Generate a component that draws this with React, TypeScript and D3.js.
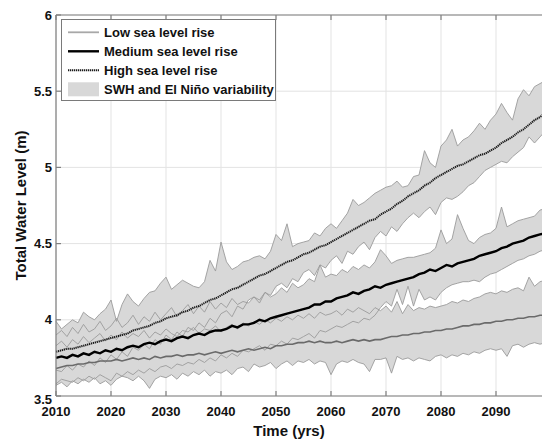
import React from 'react';
import * as d3 from 'd3';

const years = d3.range(2010, 2100);

// centre lines
const lowRise = [3.68, 3.69, 3.70, 3.70, 3.71, 3.71, 3.72, 3.72, 3.73, 3.73, 3.73, 3.74, 3.73, 3.74, 3.75, 3.74, 3.75, 3.74, 3.76, 3.75,
  3.76, 3.76, 3.77, 3.76, 3.77, 3.77, 3.78, 3.77, 3.78, 3.79, 3.78, 3.79, 3.80, 3.79, 3.80, 3.81, 3.80, 3.81, 3.82, 3.81,
  3.83, 3.83, 3.84, 3.84, 3.85, 3.85, 3.86, 3.85, 3.86, 3.85, 3.85, 3.86, 3.85, 3.86, 3.87, 3.86, 3.87, 3.86, 3.87, 3.87,
  3.88, 3.89, 3.89, 3.90, 3.90, 3.91, 3.91, 3.92, 3.92, 3.93, 3.93, 3.94, 3.94, 3.95, 3.96, 3.96, 3.97, 3.97, 3.98, 3.98,
  3.99, 3.99, 4.00, 4.00, 4.01, 4.01, 4.02, 4.02, 4.03, 4.03];
const mediumRise = [3.75, 3.76, 3.75, 3.77, 3.76, 3.78, 3.77, 3.79, 3.78, 3.80, 3.79, 3.81, 3.80, 3.82, 3.83, 3.82, 3.84, 3.85, 3.84, 3.86,
  3.87, 3.86, 3.88, 3.89, 3.88, 3.90, 3.91, 3.90, 3.92, 3.93, 3.93, 3.94, 3.96, 3.95, 3.97, 3.97, 3.98, 4.00, 3.99, 4.01,
  4.02, 4.03, 4.04, 4.05, 4.06, 4.07, 4.08, 4.10, 4.10, 4.12, 4.12, 4.14, 4.15, 4.16, 4.18, 4.17, 4.19, 4.20, 4.22, 4.21,
  4.23, 4.24, 4.25, 4.26, 4.27, 4.28, 4.30, 4.31, 4.33, 4.32, 4.34, 4.36, 4.35, 4.37, 4.38, 4.39, 4.40, 4.42, 4.43, 4.44,
  4.45, 4.47, 4.48, 4.50, 4.51, 4.52, 4.54, 4.55, 4.56, 4.57];
const highRise = [3.79, 3.80, 3.81, 3.81, 3.82, 3.83, 3.84, 3.85, 3.86, 3.87, 3.88, 3.89, 3.90, 3.91, 3.93, 3.94, 3.95, 3.96, 3.98, 3.99,
  4.01, 4.02, 4.03, 4.05, 4.06, 4.08, 4.09, 4.11, 4.13, 4.14, 4.16, 4.18, 4.20, 4.21, 4.23, 4.25, 4.27, 4.29, 4.30, 4.32,
  4.34, 4.36, 4.38, 4.39, 4.41, 4.43, 4.44, 4.46, 4.48, 4.49, 4.51, 4.53, 4.55, 4.57, 4.59, 4.61, 4.63, 4.65, 4.66, 4.69,
  4.71, 4.73, 4.76, 4.78, 4.81, 4.83, 4.85, 4.88, 4.90, 4.93, 4.95, 4.97, 4.99, 5.01, 5.02, 5.04, 5.06, 5.08, 5.09, 5.11,
  5.13, 5.16, 5.18, 5.20, 5.23, 5.25, 5.28, 5.31, 5.33, 5.36];

// variability band edges (SWH + El Nino)
const lowUpper = [3.83, 3.86, 3.82, 3.87, 3.84, 3.89, 3.85, 3.88, 3.91, 3.86, 3.90, 3.87, 3.92, 3.88, 3.91, 3.89, 3.93, 3.88, 3.92, 3.90,
  3.94, 3.91, 3.89, 3.93, 3.92, 3.95, 3.91, 3.94, 3.93, 3.96, 3.92, 3.95, 3.97, 3.94, 3.98, 3.96, 3.99, 3.97, 4.00, 3.98,
  4.01, 3.99, 4.02, 4.00, 4.03, 4.01, 4.04, 4.01, 4.05, 4.03, 4.04, 4.06, 4.03, 4.07, 4.05, 4.08, 4.06, 4.04, 4.08, 4.06,
  4.09, 4.05, 4.12, 4.04, 4.10, 4.06, 4.08, 4.07, 4.09, 4.08, 4.09, 4.10, 4.12, 4.11, 4.13, 4.12, 4.14, 4.15, 4.17, 4.18,
  4.17, 4.19, 4.18, 4.20, 4.21, 4.19, 4.28, 4.22, 4.25, 4.26];
const lowLower = [3.57, 3.59, 3.56, 3.60, 3.58, 3.61, 3.59, 3.62, 3.58, 3.60, 3.57, 3.61, 3.63, 3.62, 3.60, 3.63, 3.60, 3.55, 3.61, 3.63,
  3.62, 3.64, 3.61, 3.65, 3.63, 3.66, 3.64, 3.67, 3.63, 3.66, 3.65, 3.67, 3.64, 3.68, 3.69, 3.66, 3.71, 3.69, 3.70, 3.72,
  3.68, 3.71, 3.73, 3.70, 3.73, 3.72, 3.74, 3.71, 3.73, 3.72, 3.64, 3.71, 3.73, 3.72, 3.74, 3.72, 3.71, 3.66, 3.74, 3.74,
  3.75, 3.65, 3.76, 3.74, 3.75, 3.73, 3.75, 3.74, 3.73, 3.76, 3.77, 3.75, 3.77, 3.76, 3.78, 3.77, 3.79, 3.78, 3.80, 3.81,
  3.80, 3.81, 3.76, 3.83, 3.84, 3.82, 3.84, 3.85, 3.84, 3.85];
const mediumUpper = [3.90, 3.93, 3.89, 3.95, 3.91, 3.97, 3.92, 3.94, 3.99, 3.93, 3.96, 4.01, 3.95, 3.98, 4.03, 3.97, 4.02, 3.99, 4.05, 4.00,
  4.04, 4.08, 4.02, 4.06, 4.10, 4.04, 4.09, 4.05, 4.12, 4.07, 4.11, 4.08, 4.14, 4.10, 4.12, 4.11, 4.15, 4.13, 4.18, 4.15,
  4.17, 4.21, 4.18, 4.24, 4.21, 4.23, 4.27, 4.25, 4.36, 4.28, 4.30, 4.29, 4.33, 4.31, 4.35, 4.33, 4.36, 4.34, 4.38, 4.46,
  4.42, 4.37, 4.39, 4.40, 4.41, 4.41, 4.42, 4.43, 4.44, 4.47, 4.59, 4.50, 4.53, 4.69, 4.60, 4.52, 4.50, 4.54, 4.56, 4.57,
  4.60, 4.74, 4.61, 4.63, 4.65, 4.66, 4.67, 4.68, 4.72, 4.73];
const mediumLower = [3.58, 3.61, 3.60, 3.59, 3.62, 3.60, 3.63, 3.61, 3.64, 3.62, 3.60, 3.65, 3.63, 3.66, 3.64, 3.67, 3.65, 3.68, 3.66, 3.69,
  3.70, 3.68, 3.71, 3.70, 3.72, 3.71, 3.74, 3.72, 3.75, 3.73, 3.77, 3.75, 3.78, 3.76, 3.80, 3.79, 3.81, 3.83, 3.80, 3.84,
  3.83, 3.86, 3.84, 3.88, 3.87, 3.89, 3.91, 3.88, 3.93, 3.92, 3.94, 3.96, 3.95, 3.97, 3.99, 3.98, 4.01, 4.00, 4.03, 4.08,
  4.12, 4.09, 4.20, 4.10, 4.22, 4.09, 4.20, 4.13, 4.15, 4.13, 4.18, 4.21, 4.23, 4.24, 4.25, 4.25, 4.26, 4.25, 4.28, 4.30,
  4.31, 4.33, 4.35, 4.37, 4.39, 4.40, 4.42, 4.43, 4.45, 4.46];
const highUpper = [3.99, 3.94, 3.97, 4.00, 3.98, 4.05, 4.02, 4.00, 4.04, 4.07, 4.13, 3.99, 4.10, 4.17, 4.12, 4.09, 4.14, 4.18, 4.19, 4.24,
  4.28, 4.20, 4.23, 4.26, 4.24, 4.22, 4.21, 4.25, 4.39, 4.32, 4.51, 4.38, 4.33, 4.35, 4.38, 4.39, 4.41, 4.42, 4.40, 4.45,
  4.56, 4.52, 4.63, 4.48, 4.50, 4.51, 4.52, 4.57, 4.55, 4.60, 4.63, 4.60, 4.65, 4.70, 4.79, 4.75, 4.77, 4.80, 4.83, 4.85,
  4.87, 4.88, 4.91, 4.87, 4.88, 4.94, 4.95, 5.11, 5.03, 5.00, 5.14, 5.18, 5.25, 5.14, 5.18, 5.20, 5.24, 5.29, 5.25, 5.31,
  5.35, 5.42, 5.36, 5.31, 5.45, 5.51, 5.47, 5.53, 5.55, 5.57];
const highLower = [3.67, 3.66, 3.70, 3.67, 3.71, 3.69, 3.73, 3.70, 3.75, 3.72, 3.77, 3.74, 3.79, 3.76, 3.82, 3.80, 3.84, 3.81, 3.87, 3.84,
  3.90, 3.87, 3.92, 3.89, 3.95, 3.93, 3.98, 3.95, 4.01, 3.98, 4.04, 4.06, 4.02, 4.09, 4.07, 4.13, 4.15, 4.11, 4.18, 4.16,
  4.22, 4.24, 4.21, 4.27, 4.25, 4.31, 4.33, 4.29, 4.36, 4.34, 4.39, 4.42, 4.37, 4.45, 4.43, 4.48, 4.51, 4.46, 4.54, 4.58,
  4.55, 4.61, 4.58, 4.63, 4.67, 4.70, 4.67, 4.71, 4.74, 4.69, 4.77, 4.80, 4.79, 4.81, 4.84, 4.88, 4.90, 4.94, 4.98, 5.00,
  5.02, 5.04, 5.03, 5.07, 5.10, 5.13, 5.20, 5.16, 5.20, 5.24];

const xTicks = [2010, 2020, 2030, 2040, 2050, 2060, 2070, 2080, 2090];
const yTicks = [3.5, 4, 4.5, 5, 5.5, 6];
const legendLabels = ['Low sea level rise', 'Medium sea level rise', 'High sea level rise', 'SWH and El Niño variability'];

const width = 542;
const height = 440;
const margin = { top: 15, left: 56, bottom: 44 };
const font = 'Liberation Sans, Arial, sans-serif';

export default function App() {
  const x = d3.scaleLinear().domain([2010, 2100]).range([margin.left, margin.left + 495]);
  const y = d3.scaleLinear().domain([3.5, 6]).range([height - margin.bottom, margin.top]);
  const x0 = margin.left;
  const x1 = x(2100);
  const yTop = y(6);
  const yBot = y(3.5);

  const bands = [
    { lo: lowLower, hi: lowUpper },
    { lo: mediumLower, hi: mediumUpper },
    { lo: highLower, hi: highUpper },
  ];
  const area = (lo: number[], hi: number[]) =>
    d3.area<number>().x((d) => x(d)).y0((d, i) => y(lo[i])).y1((d, i) => y(hi[i]))(years) || '';
  const line = (vals: number[]) =>
    d3.line<number>().x((d) => x(d)).y((d, i) => y(vals[i]))(years) || '';

  const edgeColor = '#9b9b9b';
  const bandFill = '#d8d8d8';
  const axisColor = '#808080';

  return (
    <svg width={width} height={height} style={{ position: 'absolute', left: 0, top: 0, background: '#fff' }}
      fontFamily={font}>
      {/* grid */}
      {xTicks.map((t) => (
        <line key={'gx' + t} x1={x(t)} x2={x(t)} y1={yTop} y2={yBot} stroke="#e3e3e3" strokeWidth={1} />
      ))}
      {yTicks.map((t) => (
        <line key={'gy' + t} x1={x0} x2={x1} y1={y(t)} y2={y(t)} stroke="#e3e3e3" strokeWidth={1} />
      ))}

      {/* bands: fills first, edges on top */}
      {bands.map((b, i) => (
        <path key={'bf' + i} d={area(b.lo, b.hi)} fill={bandFill} stroke="none" />
      ))}
      {bands.map((b, i) => (
        <g key={'be' + i} fill="none" stroke={edgeColor} strokeWidth={0.9}>
          <path d={line(b.lo)} />
          <path d={line(b.hi)} />
        </g>
      ))}

      {/* central lines */}
      <path d={line(lowRise)} fill="none" stroke="#6a6a6a" strokeWidth={1.6} />
      <path d={line(mediumRise)} fill="none" stroke="#000" strokeWidth={2.4} />
      <path d={line(highRise)} fill="none" stroke="#1a1a1a" strokeWidth={2} strokeDasharray="1.3 0.7" />

      {/* axes box */}
      <g stroke={axisColor} strokeWidth={1.2} fill="none">
        <line x1={x0} x2={x1} y1={yBot} y2={yBot} />
        <line x1={x0} x2={x1} y1={yTop} y2={yTop} />
        <line x1={x0} x2={x0} y1={yTop} y2={yBot} />
        {xTicks.map((t) => (
          <g key={'tx' + t}>
            <line x1={x(t)} x2={x(t)} y1={yBot} y2={yBot - 5} />
            <line x1={x(t)} x2={x(t)} y1={yTop} y2={yTop + 5} />
          </g>
        ))}
        {yTicks.map((t) => (
          <line key={'ty' + t} x1={x0} x2={x0 + 5} y1={y(t)} y2={y(t)} />
        ))}
      </g>

      {/* tick labels */}
      {xTicks.map((t) => (
        <text key={'lx' + t} x={x(t)} y={yBot + 20} textAnchor="middle" fontSize={13} fontWeight="bold" fill="#111">
          {t}
        </text>
      ))}
      {yTicks.map((t) => (
        <text key={'ly' + t} x={x0 - 4} y={y(t) + (t === 3.5 ? 3 : 0)} dy="0.35em" textAnchor="end" fontSize={13}
          fontWeight="bold" fill="#111">
          {t}
        </text>
      ))}

      {/* axis titles */}
      <text x={(x0 + 522) / 2} y={436} textAnchor="middle" fontSize={15} fontWeight="bold" fill="#111">Time (yrs)</text>
      <text transform={`translate(26,${(yTop + yBot) / 2}) rotate(-90)`} textAnchor="middle" fontSize={15}
        fontWeight="bold" fill="#111">Total Water Level (m)</text>

      {/* legend */}
      <g>
        <rect x={61.5} y={19.5} width={214} height={81} fill="#fff" stroke="#7a7a7a" strokeWidth={1} />
        {legendLabels.map((lab, i) => {
          const cy = 32.3 + i * 19;
          return (
            <g key={'lg' + i}>
              {i === 0 && <line x1={68} x2={99} y1={cy} y2={cy} stroke="#a8a8a8" strokeWidth={1.8} />}
              {i === 1 && <line x1={68} x2={99} y1={cy} y2={cy} stroke="#000" strokeWidth={2.4} />}
              {i === 2 && <line x1={68} x2={99} y1={cy} y2={cy} stroke="#1a1a1a" strokeWidth={2} strokeDasharray="1.3 0.7" />}
              {i === 3 && <rect x={68} y={cy - 7} width={31} height={14} fill={bandFill} />}
              <text x={104} y={cy} dy="0.35em" fontSize={13} fontWeight="bold" fill="#111">{lab}</text>
            </g>
          );
        })}
      </g>
    </svg>
  );
}
